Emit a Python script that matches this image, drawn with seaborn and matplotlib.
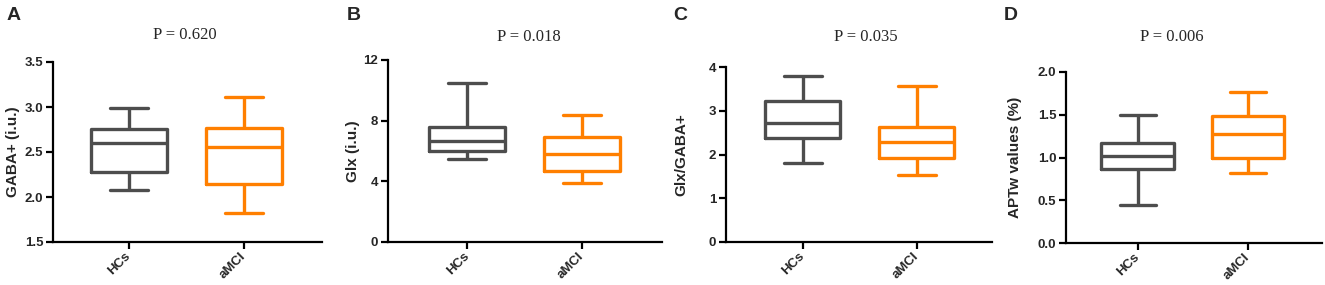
import pandas as pd
import matplotlib
matplotlib.use("Agg")
import matplotlib.pyplot as plt
import seaborn as sns

# five-number summaries: min, Q1, median, Q3, max
groups = ["HCs", "aMCI"]
gaba_hcs = [2.08, 2.28, 2.60, 2.76, 2.99]
gaba_amci = [1.82, 2.15, 2.56, 2.77, 3.11]
glx_hcs = [5.49, 5.98, 6.66, 7.60, 10.48]
glx_amci = [3.87, 4.66, 5.82, 6.95, 8.35]
ratio_hcs = [1.81, 2.37, 2.71, 3.22, 3.79]
ratio_amci = [1.53, 1.92, 2.28, 2.63, 3.56]
aptw_hcs = [0.45, 0.87, 1.02, 1.17, 1.50]
aptw_amci = [0.82, 1.00, 1.27, 1.48, 1.77]

letters = ["A", "B", "C", "D"]
pvalues = ["P = 0.620", "P = 0.018", "P = 0.035", "P = 0.006"]
ylabels = ["GABA+ (i.u.)", "Glx (i.u.)", "Glx/GABA+", "APTw values (%)"]
yticks = [[1.5, 2.0, 2.5, 3.0, 3.5], [0, 4, 8, 12], [0, 1, 2, 3, 4],
          [0.0, 0.5, 1.0, 1.5, 2.0]]
ytickfmt = ["{:.1f}", "{:d}", "{:d}", "{:.1f}"]
series = [(gaba_hcs, gaba_amci), (glx_hcs, glx_amci),
          (ratio_hcs, ratio_amci), (aptw_hcs, aptw_amci)]

palette = {"HCs": "#4d4d4d", "aMCI": "#ff7f00"}

sns.set_style("ticks")
plt.rcParams["font.family"] = ["Liberation Sans", "DejaVu Sans"]

fig = plt.figure(figsize=(13.25, 2.85), dpi=100)
W, H = 1325, 285

# axes boxes in pixels: left, right, top, bottom
boxes = [(53, 322, 62, 242), (388, 662, 60, 242),
         (726, 992, 67, 242), (1066, 1322, 72, 243)]
xlims = [(-0.66, 1.68), (-0.69, 1.70), (-0.675, 1.66), (-0.65, 1.67)]
title_pos = [(185, 35), (529, 37), (866, 37), (1172, 37)]
letter_x = [7, 347, 673, 1004]
ylabel_x = [13, 353, 681, 1015]

for i in range(4):
    l, r, t, b = boxes[i]
    ax = fig.add_axes([l / W, (H - b) / H, (r - l) / W, (b - t) / H])
    hcs, amci = series[i]
    df = pd.DataFrame({"group": ["HCs"] * len(hcs) + ["aMCI"] * len(amci),
                       "value": hcs + amci})
    sns.boxplot(data=df, x="group", y="value", hue="group", order=groups,
                hue_order=groups, palette=palette, fill=False, whis=(0, 100),
                width=0.66, linewidth=2.4, legend=False, ax=ax)
    sns.despine(ax=ax)
    ax.set_xlim(*xlims[i])
    ax.set_ylim(yticks[i][0], yticks[i][-1])
    ax.set_yticks(yticks[i])
    ax.set_yticklabels([ytickfmt[i].format(v) for v in yticks[i]],
                       fontsize=9.5, fontweight="bold")
    ax.set_xticks([0, 1])
    ax.set_xticklabels(groups, fontsize=9.5, fontweight="bold", rotation=45,
                       ha="right", va="center", rotation_mode="anchor")
    ax.set_xlabel("")
    ax.set_ylabel(ylabels[i], fontsize=11, fontweight="bold")
    ax.yaxis.label.set_va("center")
    ax.yaxis.set_label_coords((ylabel_x[i] - l) / (r - l), 0.5)
    for s in ["left", "bottom"]:
        ax.spines[s].set_linewidth(1.6)
        ax.spines[s].set_color("black")
    ax.tick_params(axis="both", width=1.6, length=5, color="black", pad=2)
    ax.tick_params(axis="x", pad=4)
    tx, ty = title_pos[i]
    fig.text(tx / W, (H - ty) / H, pvalues[i], ha="center", va="center",
             fontsize=12, family="Liberation Serif")
    fig.text(letter_x[i] / W, (H - 7) / H, letters[i], ha="left", va="top",
             fontsize=14, fontweight="bold")

fig.savefig("out.png", dpi=100)
